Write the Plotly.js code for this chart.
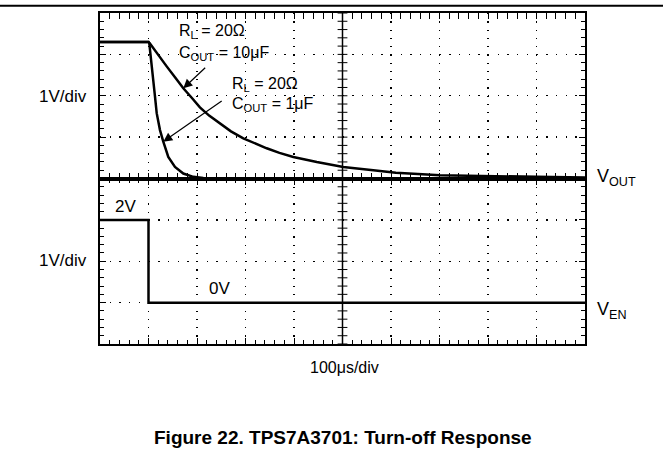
<!DOCTYPE html>
<html>
<head>
<meta charset="utf-8">
<script src="https://cdn.plot.ly/plotly-3.0.1.min.js"></script>
<style>
  html, body { margin: 0; padding: 0; background: #fff; }
  #chart { width: 663px; height: 456px; }
</style>
</head>
<body>
<div id="chart"></div>
<script>
// Time axis: microseconds, 100 us/div, 10 divisions
const timeRange = [0, 1000];

// V_OUT, R_L = 20 ohm, C_OUT = 10 uF (volts)
const tOut10 = [0, 100, 103, 120, 137.5, 155, 171.8, 190, 206, 225, 247, 270, 295.5, 320, 343.7, 370, 398.6, 447, 501.6, 563.5, 610, 701, 797, 900, 1000];
const vOut10 = [3.3, 3.3, 3.26, 2.98, 2.71, 2.44, 2.18, 1.94, 1.72, 1.52, 1.33, 1.14, 0.97, 0.84, 0.73, 0.62, 0.52, 0.40, 0.28, 0.20, 0.14, 0.08, 0.056, 0.04, 0.025];

// V_OUT, R_L = 20 ohm, C_OUT = 1 uF (volts)
const tOut1 = [0, 100, 101.6, 106.6, 109.9, 113.4, 116.9, 123.7, 130.5, 140.8, 154.6, 171.8, 192.4, 213, 1000];
const vOut1 = [3.3, 3.3, 3.27, 2.78, 2.38, 1.98, 1.58, 1.17, 0.89, 0.52, 0.28, 0.12, 0.04, 0.01, 0];

// V_EN (volts)
const tEn = [0, 100, 100, 1000];
const vEn = [2, 2, 0, 0];

// Text
const labelsDiv = ["1V/div", "1V/div"];
const timeDivLabel = "100μs/div";
const titleText = "<b>Figure 22. TPS7A3701: Turn-off Response</b>";

const FONT = '"Liberation Sans", Arial, Helvetica, sans-serif';
const black = '#000';

// graticule tick marks along vertical centre line
const ctrUp = [], ctrLo = [];
for (let i = 0; i <= 20; i++) { ctrUp.push(i * 0.2); ctrLo.push(-1 + i * 0.2); }

const traces = [
  { x: tOut10, y: vOut10, xaxis: 'x', yaxis: 'y', mode: 'lines', line: { color: black, width: 2.5 }, hoverinfo: 'skip' },
  { x: tOut1, y: vOut1, xaxis: 'x', yaxis: 'y', mode: 'lines', line: { color: black, width: 2.5 }, hoverinfo: 'skip' },
  { x: tEn, y: vEn, xaxis: 'x', yaxis: 'y2', mode: 'lines', line: { color: black, width: 2.5 }, hoverinfo: 'skip' },
  { x: ctrUp.map(() => 500), y: ctrUp, xaxis: 'x', yaxis: 'y', mode: 'markers',
    marker: { symbol: 'line-ew', size: 7, line: { color: black, width: 1 } }, hoverinfo: 'skip' },
  { x: ctrLo.map(() => 500), y: ctrLo, xaxis: 'x', yaxis: 'y2', mode: 'markers',
    marker: { symbol: 'line-ew', size: 7, line: { color: black, width: 1 } }, hoverinfo: 'skip' }
];

const axCommon = {
  showticklabels: false, showgrid: true, gridcolor: black, gridwidth: 1.3,
  showline: true, linecolor: black, linewidth: 2, mirror: 'allticks',
  ticks: 'inside', ticklen: 6, tickwidth: 1, tickcolor: black,
  zeroline: false, fixedrange: true
};

const layout = {
  width: 663, height: 456,
  margin: { l: 100, r: 78, t: 13, b: 112 },
  paper_bgcolor: '#fff', plot_bgcolor: '#fff',
  showlegend: false,
  font: { family: FONT, color: black, size: 16 },
  xaxis: Object.assign({}, axCommon, {
    range: timeRange, tick0: 0, dtick: 100, anchor: 'y2', griddash: '1.3px,6.95px',
    minor: { dtick: 20, ticks: 'inside', ticklen: 4, tickwidth: 1, tickcolor: black, showgrid: false }
  }),
  yaxis: Object.assign({}, axCommon, {
    domain: [0.5, 1], range: [0, 4], tick0: 0, dtick: 1, anchor: 'x', griddash: '1.3px,8.4px',
    minor: { dtick: 0.2, ticks: 'inside', ticklen: 4, tickwidth: 1, tickcolor: black, showgrid: false }
  }),
  yaxis2: Object.assign({}, axCommon, {
    domain: [0, 0.5], range: [-1, 3], tick0: 0, dtick: 1, anchor: 'x', griddash: '1.3px,8.4px',
    minor: { dtick: 0.2, ticks: 'inside', ticklen: 4, tickwidth: 1, tickcolor: black, showgrid: false }
  }),
  shapes: [
    { type: 'line', xref: 'x', yref: 'paper', x0: 500, x1: 500, y0: 0, y1: 1, line: { color: black, width: 1.5 } },
    { type: 'line', xref: 'paper', yref: 'paper', x0: 0, x1: 1, y0: 0.5, y1: 0.5, line: { color: black, width: 2 } },
    { type: 'line', xref: 'paper', yref: 'paper', x0: -0.25, x1: 1.2, y0: 1.022, y1: 1.022, line: { color: black, width: 2 } }
  ],
  annotations: [
    { xref: 'paper', yref: 'paper', x: -0.0227, y: 0.749, xanchor: 'right', yanchor: 'middle', text: labelsDiv[0], showarrow: false, font: { size: 17 } },
    { xref: 'paper', yref: 'paper', x: -0.0227, y: 0.251, xanchor: 'right', yanchor: 'middle', text: labelsDiv[1], showarrow: false, font: { size: 17 } },
    { xref: 'paper', yref: 'paper', x: 0.505, y: -0.0695, xanchor: 'center', yanchor: 'middle', text: timeDivLabel, showarrow: false, font: { size: 16 } },
    { xref: 'paper', yref: 'paper', x: 1.0206, y: 0.502, xanchor: 'left', yanchor: 'middle', text: 'V<sub>OUT</sub>', showarrow: false, font: { size: 18 } },
    { xref: 'paper', yref: 'paper', x: 1.0206, y: 0.100, xanchor: 'left', yanchor: 'middle', text: 'V<sub>EN</sub>', showarrow: false, font: { size: 18 } },
    { xref: 'paper', yref: 'paper', x: 0.0268, y: 0.415, xanchor: 'left', yanchor: 'middle', text: '2V', showarrow: false, font: { size: 17 } },
    { xref: 'paper', yref: 'paper', x: 0.2206, y: 0.168, xanchor: 'left', yanchor: 'middle', text: '0V', showarrow: false, font: { size: 17 } },
    { xref: 'paper', yref: 'paper', x: 0.158, y: 0.9456, xanchor: 'left', yanchor: 'middle', text: 'R<sub>L</sub> = 20Ω', showarrow: false },
    { xref: 'paper', yref: 'paper', x: 0.158, y: 0.879, xanchor: 'left', yanchor: 'middle', text: 'C<sub>OUT</sub> = 10μF', showarrow: false },
    { xref: 'paper', yref: 'paper', x: 0.268, y: 0.7825, xanchor: 'left', yanchor: 'middle', text: 'R<sub>L</sub> = 20Ω', showarrow: false },
    { xref: 'paper', yref: 'paper', x: 0.268, y: 0.725, xanchor: 'left', yanchor: 'middle', text: 'C<sub>OUT</sub> = 1μF', showarrow: false },
    { xref: 'x', yref: 'y', x: 171.8, y: 2.18, axref: 'x', ayref: 'y', ax: 220, ay: 2.71, text: '', showarrow: true,
      arrowhead: 2, arrowsize: 1.5, arrowwidth: 1.2, arrowcolor: black },
    { xref: 'x', yref: 'y', x: 130.5, y: 0.89, axref: 'x', ayref: 'y', ax: 254, ay: 1.9, text: '', showarrow: true,
      arrowhead: 2, arrowsize: 1.5, arrowwidth: 1.2, arrowcolor: black },
    { xref: 'paper', yref: 'paper', x: 0.107, y: -0.281, xanchor: 'left', yanchor: 'middle', text: titleText, showarrow: false, font: { size: 19 } }
  ]
};

Plotly.newPlot('chart', traces, layout, { staticPlot: true, displayModeBar: false });
</script>
</body>
</html>
